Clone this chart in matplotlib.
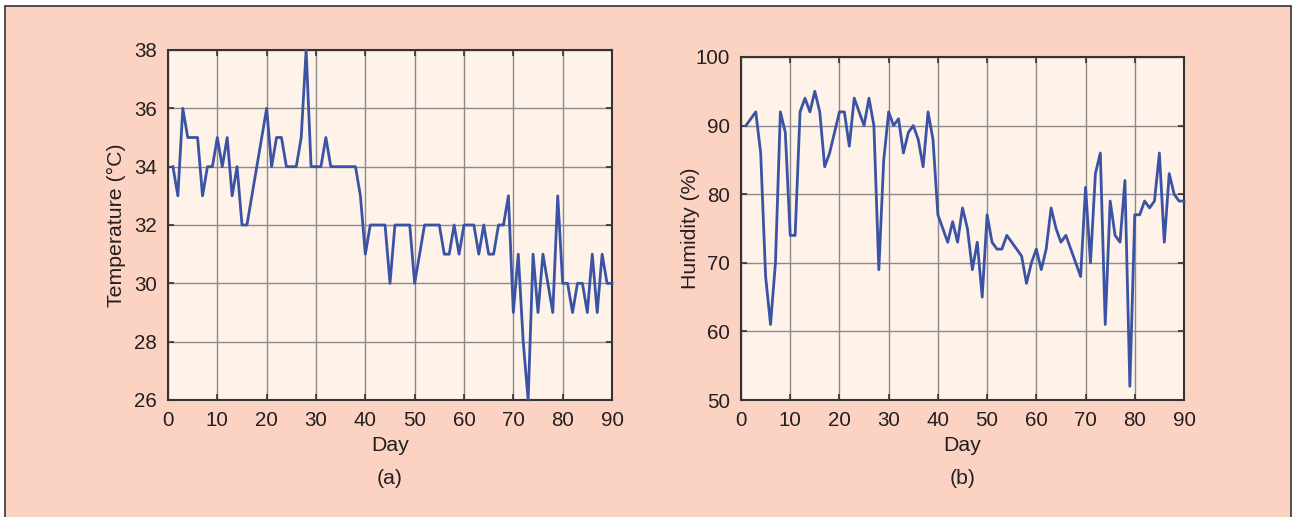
import numpy as np
import matplotlib
matplotlib.use("Agg")
import matplotlib.pyplot as plt
from matplotlib.patches import Rectangle

# daily readings, days 1..90
days = np.arange(1, 91)
temperature = [34, 33, 36, 35, 35, 35, 33, 34, 34, 35,
               34, 35, 33, 34, 32, 32, 33, 34, 35, 36,
               34, 35, 35, 34, 34, 34, 35, 38, 34, 34,
               34, 35, 34, 34, 34, 34, 34, 34, 33, 31,
               32, 32, 32, 32, 30, 32, 32, 32, 32, 30,
               31, 32, 32, 32, 32, 31, 31, 32, 31, 32,
               32, 32, 31, 32, 31, 31, 32, 32, 33, 29,
               31, 28, 26, 31, 29, 31, 30, 29, 33, 30,
               30, 29, 30, 30, 29, 31, 29, 31, 30, 30]
humidity = [90, 91, 92, 86, 68, 61, 70, 92, 89, 74,
            74, 92, 94, 92, 95, 92, 84, 86, 89, 92,
            92, 87, 94, 92, 90, 94, 90, 69, 85, 92,
            90, 91, 86, 89, 90, 88, 84, 92, 88, 77,
            75, 73, 76, 73, 78, 75, 69, 73, 65, 77,
            73, 72, 72, 74, 73, 72, 71, 67, 70, 72,
            69, 72, 78, 75, 73, 74, 72, 70, 68, 81,
            70, 83, 86, 61, 79, 74, 73, 82, 52, 77,
            77, 79, 78, 79, 86, 73, 83, 80, 79, 79]

x_ticks = np.arange(0, 91, 10)
temp_ticks = np.arange(26, 39, 2)
hum_ticks = np.arange(50, 101, 10)

BG = "#fcd3c2"
AX_BG = "#fef2e9"
LINE = "#3a53a4"
TXT = "#231f20"

plt.rcParams['font.family'] = ['Liberation Sans', 'DejaVu Sans']
plt.rcParams['font.size'] = 15.3
plt.rcParams['text.color'] = TXT

W, H = 1299, 517
fig = plt.figure(figsize=(W / 100, H / 100), dpi=100)
fig.patch.set_facecolor("white")

# salmon panel with thin border, kept behind the axes
panel = Rectangle((5 / W, -0.05), (1291 - 5) / W, 1.05 - 6 / H,
                  transform=fig.transFigure, facecolor=BG,
                  edgecolor="#333333", linewidth=1.2)
panel.set_zorder(-10)
fig.add_artist(panel)


def make_axes(rect, y, yticks, ylabel, ypad, tag):
    ax = fig.add_axes(rect)
    ax.set_zorder(1)
    ax.set_facecolor(AX_BG)
    ax.plot(days, y, color=LINE, linewidth=2, zorder=3, clip_on=False)
    ax.set_xlim(0, 90)
    ax.set_ylim(yticks[0], yticks[-1])
    ax.set_xticks(x_ticks)
    ax.set_yticks(yticks)
    ax.grid(True, color="#8a8a8a", linewidth=1)
    ax.set_axisbelow(True)
    ax.tick_params(direction="in", top=True, right=True, length=4,
                   width=1.2, color="#333333", labelcolor=TXT, pad=8,
                   labelsize=14.8)
    for s in ax.spines.values():
        s.set_color("#333333")
        s.set_linewidth(1.5)
    ax.set_xlabel("Day", labelpad=4, color=TXT)
    ax.set_ylabel(ylabel, labelpad=ypad, color=TXT)
    # panel tag sits under the bottom spine
    ax.annotate(tag, xy=(0.5, 0), xycoords="axes fraction",
                xytext=(0, -78 * 0.72), textcoords="offset points",
                ha="center", va="center", color=TXT)
    return ax


def px_rect(x0, x1, y_top, y_bot):
    return [x0 / W, (H - y_bot) / H, (x1 - x0) / W, (y_bot - y_top) / H]


make_axes(px_rect(168, 612, 50, 400), temperature, temp_ticks,
          "Temperature (°C)", 6, "(a)")
make_axes(px_rect(741, 1184, 57, 400), humidity, hum_ticks,
          "Humidity (%)", -3, "(b)")

fig.savefig("out.png", dpi=100, facecolor=fig.get_facecolor())
